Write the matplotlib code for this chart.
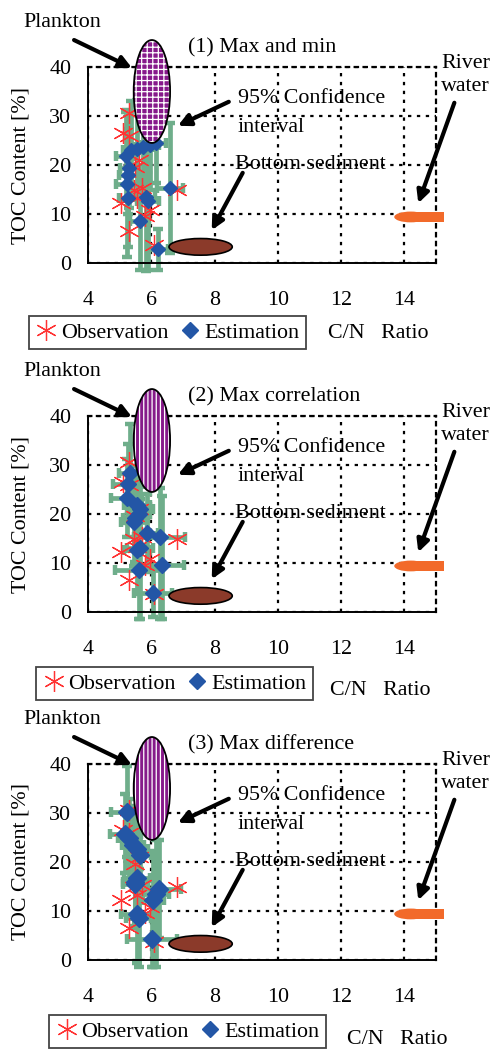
import numpy as np
import matplotlib.pyplot as plt
from matplotlib.patches import Ellipse, Rectangle
from matplotlib.lines import Line2D

plt.rcParams['font.family'] = ['Liberation Serif', 'DejaVu Serif']
plt.rcParams['font.size'] = 15.8
plt.rcParams['hatch.linewidth'] = 0.9

# observed C/N ratio and TOC content (same in every panel)
obs_cn = [5.3, 6.25, 5.1, 5.3, 5.6, 5.5, 5.45, 5.7, 6.8, 5.05, 5.55, 5.95, 5.8, 5.3, 6.08]
obs_toc = [30.7, 31.2, 26.6, 26.0, 21.0, 19.6, 14.9, 15.4, 14.9, 12.2, 13.2, 10.8, 9.6, 6.5, 3.6]

# (1) max and min
est1_cn = [5.2, 5.35, 5.55, 5.75, 5.95, 6.15, 5.3, 5.27, 5.23, 5.27, 5.83, 5.9, 6.59, 5.64, 6.22]
est1_toc = [21.8, 23.0, 23.3, 23.6, 24.0, 24.4, 19.3, 18.0, 16.2, 13.3, 13.4, 12.6, 15.3, 8.5, 2.8]
est1_xerr = [0.3, 0.25, 0.3, 0.3, 0.3, 0.3, 0.3, 0.3, 0.35, 0.3, 0.3, 0.35, 0.4, 0.3, 0.3]
est1_ylo = [9, 10, 10, 9.5, 9, 8, 8, 8, 15, 10, 15, 14, 13.2, 10, 4.2]
est1_yhi = [9, 10, 10, 9.5, 9, 8, 8, 8, 15, 10, 15, 14, 13.2, 10, 4.2]

# (2) max correlation
est2_cn = [5.32, 5.28, 5.22, 5.55, 5.64, 5.62, 5.5, 5.45, 5.86, 6.27, 5.64, 5.55, 6.33, 5.6, 6.06]
est2_toc = [28.4, 26.2, 23.3, 21.8, 21.0, 20.0, 19.2, 18.4, 16.1, 15.3, 13.1, 12.6, 9.6, 8.6, 3.9]
est2_xerr = [0.35, 0.5, 0.5, 0.4, 0.4, 0.35, 0.4, 0.4, 0.35, 0.8, 0.4, 0.4, 0.7, 0.75, 0.6]
est2_ylo = [10, 8, 8, 8, 8, 8, 9, 9, 8, 16.7, 14.5, 9, 11, 10, 5]
est2_yhi = [10, 8, 8, 8, 8, 8, 9, 9, 8, 10, 10, 9, 14, 10, 5]

# (3) max difference
est3_cn = [5.22, 5.18, 5.3, 5.42, 5.55, 5.65, 5.55, 5.5, 6.25, 6.15, 6.05, 5.55, 5.6, 6.02, 5.5]
est3_toc = [30.1, 25.8, 24.8, 23.5, 22.6, 21.5, 16.8, 15.6, 14.5, 13.5, 12.3, 9.3, 8.5, 4.3, 16.0]
est3_xerr = [0.5, 0.5, 0.35, 0.35, 0.35, 0.35, 0.4, 0.4, 0.7, 0.4, 0.35, 0.5, 0.4, 0.8, 0.4]
est3_ylo = [9, 8, 8, 8, 8, 8, 9, 9, 10, 15, 13.7, 10, 10, 5.7, 9]
est3_yhi = [9.5, 8, 8, 8, 8, 8, 9, 9, 10, 11, 10, 10, 10, 5, 9]

titles = ['(1) Max and min', '(2) Max correlation', '(3) Max difference']
x_ticks = [4, 6, 8, 10, 12, 14]
y_ticks = [0, 10, 20, 30, 40]

# source regions: C/N centre, TOC centre, C/N width, TOC height
plankton = (6.02, 35.0, 1.15, 21.0)
sediment = (7.56, 3.3, 2.0, 3.4)
# river water: C/N from, C/N to, TOC centre, TOC height
river = (13.68, 15.26, 9.4, 2.2)

panels = [
    (est1_cn, est1_toc, est1_xerr, est1_ylo, est1_yhi, '+++'),
    (est2_cn, est2_toc, est2_xerr, est2_ylo, est2_yhi, '||||'),
    (est3_cn, est3_toc, est3_xerr, est3_ylo, est3_yhi, '||||'),
]
bottoms = [0.7495, 0.4171, 0.0857]
leg_pos = [(-0.17, -0.27), (-0.149, -0.28), (-0.112, -0.28)]
cn_pos = [(0.833, -0.362), (0.839, -0.398), (0.888, -0.406)]

green = '#6fae8b'
red = '#ff3333'
blue = '#2356a6'
star = (6, 2, 0)

fig = plt.figure(figsize=(4.91, 10.5), dpi=100)

for k, (cn, toc, xe, ylo, yhi, hatch) in enumerate(panels):
    ax = fig.add_axes([0.1792, bottoms[k], 0.7088, 0.1867])
    ax.set_xlim(4, 15)
    ax.set_ylim(0, 40)
    ax.set_xticks(x_ticks)
    ax.set_yticks(y_ticks)
    ax.tick_params(length=0)
    ax.tick_params(axis='x', pad=20)
    ax.tick_params(axis='y', pad=12)
    ax.grid(True, color='black', linestyle=(0, (1.5, 2.5)), linewidth=1.6)
    ax.set_axisbelow(True)
    for s in ['top', 'right']:
        ax.spines[s].set_linestyle((0, (1.5, 2.5)))
        ax.spines[s].set_linewidth(1.6)
    for s in ['left', 'bottom']:
        ax.spines[s].set_linewidth(1.4)

    ax.set_ylabel('TOC Content [%]')
    ax.yaxis.set_label_coords(-0.165, 0.5)

    # error bars and points
    eb = ax.errorbar(cn, toc, xerr=xe, yerr=[ylo, yhi], fmt='none', ecolor=green,
                     elinewidth=3.4, capsize=3.5, capthick=3.2, zorder=2)
    for art in eb.get_children():
        art.set_clip_on(False)
    ax.plot(obs_cn, obs_toc, linestyle='none', marker=star, color=red,
            markersize=15, markeredgewidth=0.9, zorder=3, clip_on=False)
    ax.plot(cn, toc, linestyle='none', marker='D', color=blue,
            markersize=7.5 + k, zorder=4, clip_on=False)

    # source regions
    pc, pt, pw, ph = plankton
    ax.add_patch(Ellipse((pc, pt), pw, ph, facecolor='#86198a', edgecolor='white',
                         linewidth=0, hatch=hatch, zorder=5, clip_on=False))
    ax.add_patch(Ellipse((pc, pt), pw, ph, facecolor='none', edgecolor='black',
                         linewidth=1.3, zorder=6, clip_on=False))
    sc, st, sw, sh = sediment
    ax.add_patch(Ellipse((sc, st), sw, sh, facecolor='#8b3a2a', edgecolor='black',
                         linewidth=1.2, zorder=5))
    r0, r1, rt, rh = river
    ax.add_patch(Ellipse((r0 + 0.52, rt), 1.04, rh, facecolor='#f26a2a',
                         edgecolor='none', zorder=5, clip_on=False))
    ax.add_patch(Rectangle((r0 + 0.52, rt - rh / 2), r1 - r0 - 0.52, rh,
                           facecolor='#f26a2a', edgecolor='none', zorder=5, clip_on=False))

    # labels and arrows
    ax.text(3.18, 49, 'Plankton', ha='center', va='center')
    ax.text(7.15, 44, titles[k], ha='left', va='center')
    ax.text(15.17, 38.4, 'River\nwater', ha='left', va='center', linespacing=1.25)
    ax.text(8.73, 33.5, '95% Confidence', ha='left', va='center', zorder=7)
    ax.text(8.73, 27.6, 'interval', ha='left', va='center')
    ax.text(8.64, 20.2, 'Bottom sediment', ha='left', va='center', zorder=7)
    arrow = dict(arrowstyle='-|>', color='black', lw=3, mutation_scale=18,
                 shrinkA=0, shrinkB=0)
    for tail, head in [((3.56, 45.5), (5.39, 39.8)), ((8.45, 32.9), (6.84, 28.0)),
                       ((8.89, 18.4), (7.91, 6.7)), ((15.58, 32.7), (14.44, 12.2))]:
        ax.annotate('', xy=head, xytext=tail, arrowprops=arrow,
                    annotation_clip=False, zorder=8)

    ax.text(cn_pos[k][0], cn_pos[k][1], 'C/N   Ratio', transform=ax.transAxes,
            ha='center', va='center')

    handles = [Line2D([], [], linestyle='none', marker=star, color=red,
                      markersize=15, markeredgewidth=0.9),
               Line2D([], [], linestyle='none', marker='D', color=blue, markersize=8)]
    leg = ax.legend(handles, ['Observation', 'Estimation'], ncol=2, loc='upper left',
                    bbox_to_anchor=leg_pos[k], borderaxespad=0, fancybox=False,
                    edgecolor='#444444', handletextpad=0.15, columnspacing=0.5,
                    handlelength=1.0, borderpad=0.3, framealpha=1)
    leg.get_frame().set_linewidth(1.3)

fig.savefig('out.png', dpi=100)
